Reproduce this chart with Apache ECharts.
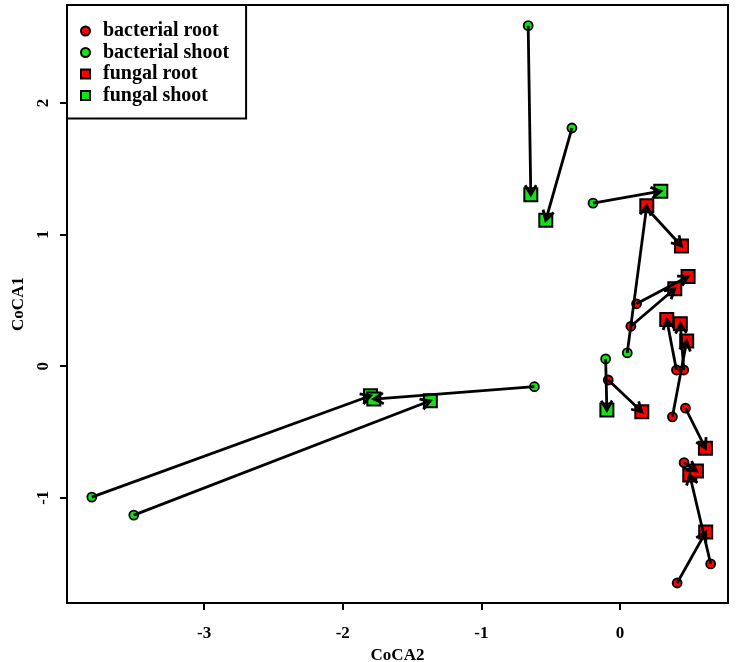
<!DOCTYPE html>
<html>
<head>
<meta charset="utf-8">
<script src="https://cdn.jsdelivr.net/npm/echarts@6/dist/echarts.min.js"></script>
<style>html,body{margin:0;padding:0;background:#fff}#c{width:742px;height:662px}</style>
</head>
<body>
<div id="c"></div>
<script>
// Bacterial community scores (circles)
const bRootX = [0.187, 0.120, 0.079, 0.408, 0.461, -0.084, 0.379, 0.473, 0.463, 0.655, 0.413];
const bRootY = [1.208, 0.474, 0.303, -0.029, -0.029, -0.105, -0.385, -0.319, -0.733, -1.503, -1.648];
const bShootX = [-0.662, -0.346, -0.194, 0.053, -0.103, -0.617, -3.811, -3.508];
const bShootY = [2.588, 1.810, 1.239, 0.101, 0.055, -0.156, -0.995, -1.132];
// Fungal community scores (squares)
const fRootX = [0.194, 0.444, 0.492, 0.396, 0.338, 0.436, 0.482, 0.158, 0.617, 0.504, 0.552, 0.619];
const fRootY = [1.220, 0.913, 0.682, 0.588, 0.354, 0.322, 0.191, -0.347, -0.623, -0.827, -0.796, -1.261];
const fShootX = [-0.643, -0.535, 0.295, -0.094, -1.800, -1.776, -1.368];
const fShootY = [1.303, 1.109, 1.330, -0.334, -0.225, -0.250, -0.263];
// Arrows: [fromGroup, fromIndex, toGroup, toIndex]
const links = [
  ['bs',0,'fs',0], ['bs',1,'fs',1], ['bs',2,'fs',2], ['bs',3,'fr',0],
  ['bs',4,'fs',3], ['bs',5,'fs',5], ['bs',6,'fs',4], ['bs',7,'fs',6],
  ['br',0,'fr',1], ['br',1,'fr',2], ['br',2,'fr',3], ['br',3,'fr',4],
  ['br',4,'fr',5], ['br',5,'fr',7], ['br',6,'fr',6], ['br',7,'fr',8],
  ['br',8,'fr',10], ['br',9,'fr',9], ['br',10,'fr',11]
];
const seriesNames = ['bacterial root', 'bacterial shoot', 'fungal root', 'fungal shoot'];
const xTicks = [-3, -2, -1, 0];
const yTicks = [-1, 0, 1, 2];
const xName = 'CoCA2';
const yName = 'CoCA1';

const groups = {
  br: [bRootX, bRootY], bs: [bShootX, bShootY],
  fr: [fRootX, fRootY], fs: [fShootX, fShootY]
};
const pts = (g) => groups[g][0].map((x, i) => [x, groups[g][1][i]]);
const arrowData = links.map(l => {
  const a = groups[l[0]], b = groups[l[2]];
  return [a[0][l[1]], a[1][l[1]], b[0][l[3]], b[1][l[3]]];
});

const RED = '#ff0000', GREEN = '#16e016';
const font = 'Liberation Serif, Times New Roman, serif';
const chart = echarts.init(document.getElementById('c'), null, {renderer: 'canvas'});
chart.setOption({
  animation: false,
  backgroundColor: '#fff',
  grid: {left: 67, right: 14, top: 5, bottom: 59, outerBoundsMode: 'none', containLabel: false,
         show: true, borderColor: '#000', borderWidth: 2, backgroundColor: 'transparent'},
  legend: {
    left: 67, top: 5, orient: 'vertical',
    backgroundColor: '#fff', borderColor: '#000', borderWidth: 2,
    padding: [16, 17, 13, 13], itemGap: 1.5, itemWidth: 9, itemHeight: 9,
    textStyle: {fontFamily: font, fontWeight: 'bold', fontSize: 20, color: '#000', padding: [0, 0, 0, 8]},
    data: [
      {name: seriesNames[0], icon: 'circle'},
      {name: seriesNames[1], icon: 'circle'},
      {name: seriesNames[2], icon: 'rect'},
      {name: seriesNames[3], icon: 'rect'}
    ]
  },
  xAxis: {
    type: 'value', min: -3.99, max: 0.78,
    name: xName, nameLocation: 'middle', nameGap: 42,
    nameTextStyle: {fontFamily: font, fontWeight: 'bold', fontSize: 17, color: '#000'},
    axisLine: {show: false, onZero: false}, splitLine: {show: false},
    axisTick: {show: true, length: 7, lineStyle: {color: '#000', width: 2}, customValues: xTicks},
    axisLabel: {customValues: xTicks, margin: 22, fontFamily: font, fontWeight: 'bold', fontSize: 17, color: '#000'}
  },
  yAxis: {
    type: 'value', min: -1.80, max: 2.745,
    name: yName, nameLocation: 'middle', nameGap: 40, nameRotate: 90,
    nameTextStyle: {fontFamily: font, fontWeight: 'bold', fontSize: 17, color: '#000'},
    axisLine: {show: false, onZero: false}, splitLine: {show: false},
    axisTick: {show: true, length: 7, lineStyle: {color: '#000', width: 2}, customValues: yTicks},
    axisLabel: {customValues: yTicks, rotate: 90, margin: 15, fontFamily: font, fontWeight: 'bold', fontSize: 17, color: '#000'}
  },
  series: [
    {name: seriesNames[0], type: 'scatter', symbol: 'circle', symbolSize: 9, z: 2,
     itemStyle: {color: RED, borderColor: '#000', borderWidth: 1.8, opacity: 1}, data: pts('br')},
    {name: seriesNames[1], type: 'scatter', symbol: 'circle', symbolSize: 9, z: 2,
     itemStyle: {color: GREEN, borderColor: '#000', borderWidth: 1.8, opacity: 1}, data: pts('bs')},
    {name: seriesNames[2], type: 'scatter', symbol: 'rect', symbolSize: 13, z: 3,
     itemStyle: {color: RED, borderColor: '#000', borderWidth: 2, opacity: 1}, data: pts('fr')},
    {name: seriesNames[3], type: 'scatter', symbol: 'rect', symbolSize: 13, z: 3,
     itemStyle: {color: GREEN, borderColor: '#000', borderWidth: 2, opacity: 1}, data: pts('fs')},
    {
      name: 'arrows', type: 'custom', z: 4, silent: true,
      encode: {x: [0, 2], y: [1, 3]},
      data: arrowData,
      renderItem: function (params, api) {
        const p1 = api.coord([api.value(0), api.value(1)]);
        const p2 = api.coord([api.value(2), api.value(3)]);
        const ang = Math.atan2(p2[1] - p1[1], p2[0] - p1[0]);
        const L = 11, A = Math.PI / 6;
        const h1 = [p2[0] - L * Math.cos(ang - A), p2[1] - L * Math.sin(ang - A)];
        const h2 = [p2[0] - L * Math.cos(ang + A), p2[1] - L * Math.sin(ang + A)];
        return {
          type: 'group',
          children: [
            {type: 'line', shape: {x1: p1[0], y1: p1[1], x2: p2[0], y2: p2[1]}, style: {stroke: '#000', lineWidth: 2.8}},
            {type: 'polyline', shape: {points: [h1, p2, h2]}, style: {stroke: '#000', lineWidth: 2.8, fill: null}}
          ]
        };
      }
    }
  ]
});
</script>
</body>
</html>
